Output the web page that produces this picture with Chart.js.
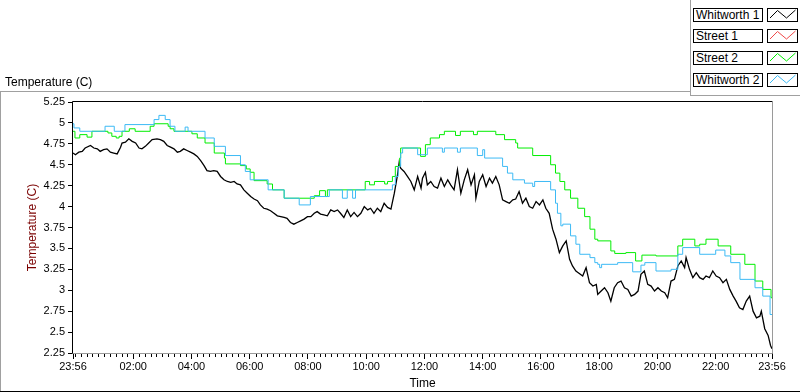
<!DOCTYPE html>
<html>
<head>
<meta charset="utf-8">
<script src="https://cdn.jsdelivr.net/npm/chart.js@4.4.1/dist/chart.umd.min.js"></script>
<style>
html,body{margin:0;padding:0;background:#fff;}
#wrap{position:relative;width:800px;height:392px;overflow:hidden;font-family:"Liberation Sans",Arial,sans-serif;background:#fff;}
#c{position:absolute;left:0;top:0;}
.ln{position:absolute;}
.lbl{position:absolute;font-size:12px;line-height:14px;color:#000;white-space:nowrap;}
.lgname{position:absolute;box-sizing:border-box;border:1px solid #000;background:#fff;font-size:12px;line-height:12px;padding-left:2px;white-space:nowrap;}
.lgicon{position:absolute;box-sizing:border-box;border:1px solid #000;background:#fff;}
</style>
</head>
<body>
<div id="wrap">
<canvas id="c" width="800" height="392"></canvas>
<div class="lbl" style="left:5px;top:75px;">Temperature (C)</div>
<div class="ln" style="left:0;top:91px;width:690px;height:1px;background:#a0a0a0;"></div>
<div class="ln" style="left:0;top:91px;width:1px;height:301px;background:#a0a0a0;"></div>
<div class="ln" style="left:0;top:391px;width:800px;height:1px;background:#000;"></div>
<div class="ln" style="left:690px;top:0;width:1px;height:96px;background:#a0a0a0;"></div>
<div class="ln" style="left:690px;top:95px;width:110px;height:1px;background:#a0a0a0;"></div>
<div id="legend"></div>
</div>
<script>
// ---- data ----
const seriesNames = ['Whitworth 1', 'Street 1', 'Street 2', 'Whitworth 2'];
const seriesColors = ['#000000', '#f04848', '#00ee00', '#3cbaf5'];

// x axis: minutes since 23:56
const xTickMinutes = [0,124,244,364,484,604,724,844,964,1084,1204,1324,1440];
const xTickLabels = ['23:56','02:00','04:00','06:00','08:00','10:00','12:00','14:00','16:00','18:00','20:00','22:00','23:56'];
const yTickValues = [2.25,2.5,2.75,3,3.25,3.5,3.75,4,4.25,4.5,4.75,5,5.25];
const yTickLabels = ['2.25','2.5','2.75','3','3.25','3.5','3.75','4','4.25','4.5','4.75','5','5.25'];

const whitworth1Times = [
0,5,12,19,25,36,43,50,56,63,
70,77,84,91,98,101,108,115,122,129,
136,142,149,156,163,173,180,187,194,201,
208,215,221,228,235,242,249,256,263,270,
276,283,290,297,304,311,318,325,332,338,
345,352,359,366,373,380,386,393,400,407,
414,421,428,435,441,448,455,462,469,476,
483,490,497,503,510,517,524,531,538,545,
551,558,565,572,579,586,593,600,607,613,
620,627,634,641,648,655,662,668,672,675,
682,689,696,703,710,717,720,726,730,737,
744,751,758,765,772,778,785,792,799,806,
813,820,827,830,837,844,851,858,864,871,
878,885,892,899,906,912,919,926,933,940,
947,954,961,968,974,981,988,995,1002,1009,
1016,1023,1029,1036,1043,1050,1057,1064,1071,1078,
1081,1088,1095,1102,1108,1115,1122,1129,1136,1143,
1150,1157,1164,1170,1177,1184,1191,1198,1205,1212,
1219,1225,1232,1239,1246,1253,1260,1263,1270,1277,
1284,1291,1298,1304,1311,1318,1325,1332,1339,1346,
1353,1360,1366,1373,1380,1387,1394,1401,1408,1415,
1418,1425,1432,1437,1440];
const whitworth1Temps = [
4.64,4.62,4.65,4.66,4.70,4.73,4.70,4.69,4.66,4.68,
4.69,4.65,4.64,4.63,4.71,4.76,4.77,4.81,4.78,4.76,
4.70,4.69,4.72,4.76,4.80,4.81,4.80,4.78,4.73,4.71,
4.69,4.65,4.66,4.69,4.67,4.65,4.63,4.60,4.55,4.49,
4.43,4.42,4.43,4.42,4.36,4.32,4.30,4.29,4.30,4.27,
4.26,4.20,4.16,4.12,4.09,4.07,4.02,3.98,3.97,3.95,
3.92,3.89,3.88,3.87,3.86,3.81,3.79,3.81,3.83,3.85,
3.88,3.88,3.92,3.94,3.91,3.90,3.89,3.96,3.94,3.96,
3.92,3.87,3.96,3.88,3.93,3.88,3.92,4.00,3.96,3.98,
3.92,3.98,3.94,4.04,3.99,3.97,4.16,4.36,4.53,4.46,
4.42,4.36,4.30,4.20,4.36,4.22,4.34,4.41,4.26,4.30,
4.24,4.22,4.34,4.24,4.32,4.26,4.20,4.44,4.16,4.32,
4.44,4.26,4.38,4.10,4.30,4.38,4.24,4.34,4.28,4.36,
4.26,4.08,4.06,4.04,4.08,4.09,4.18,4.04,4.10,4.00,
3.98,4.06,4.02,4.08,3.98,3.92,3.73,3.61,3.45,3.53,
3.59,3.37,3.29,3.23,3.20,3.17,3.27,3.09,3.05,3.07,
2.95,2.99,3.03,2.97,2.87,3.03,3.09,3.11,3.03,3.01,
2.93,2.95,2.99,3.19,3.23,3.07,3.05,2.99,3.03,2.99,
2.97,2.91,3.11,3.13,3.29,3.35,3.27,3.39,3.25,3.15,
3.21,3.15,3.13,3.17,3.15,3.23,3.17,3.15,3.09,3.13,
3.01,2.93,2.87,2.79,2.77,2.87,2.93,2.75,2.67,2.69,
2.75,2.54,2.46,2.34,2.30];

const street1Times = [];
const street1Temps = [];

const street2Times = [0,4,14,29,39,72,80,89,95,101,116,128,159,167,196,200,208,245,256,272,291,312,314,345,357,365,373,400,411,435,497,508,520,524,602,611,621,642,648,658,664,673,675,716,726,736,755,765,788,798,825,833,871,889,912,916,947,984,994,1003,1013,1025,1040,1054,1065,1075,1081,1108,1116,1139,1159,1172,1201,1246,1256,1281,1291,1304,1329,1355,1384,1405,1421,1438,1440];
const street2Temps = [4.90,4.82,4.86,4.83,4.90,4.88,4.84,4.82,4.84,4.90,4.93,4.90,4.96,4.99,4.96,4.93,4.90,4.87,4.82,4.76,4.64,4.58,4.51,4.49,4.45,4.41,4.31,4.27,4.20,4.10,4.13,4.19,4.12,4.20,4.30,4.26,4.30,4.27,4.30,4.36,4.48,4.58,4.70,4.60,4.74,4.82,4.86,4.90,4.85,4.90,4.86,4.90,4.86,4.80,4.76,4.70,4.61,4.50,4.40,4.30,4.20,4.10,3.98,3.88,3.73,3.61,3.59,3.47,3.44,3.45,3.35,3.42,3.41,3.53,3.61,3.53,3.55,3.61,3.53,3.43,3.31,3.11,3.01,2.91,2.91];

const whitworth2Times = [0,2,14,66,85,107,167,177,190,200,210,231,237,272,291,314,345,355,365,402,435,466,489,528,555,565,576,582,658,664,670,675,679,710,730,761,765,792,798,833,844,848,885,895,906,930,947,951,984,994,998,1005,1009,1025,1036,1044,1065,1075,1081,1085,1089,1122,1153,1170,1178,1201,1232,1246,1256,1291,1324,1343,1355,1374,1405,1421,1436,1440];
const whitworth2Temps = [4.99,4.94,4.90,4.96,4.90,4.98,5.04,5.09,5.04,4.96,4.90,4.95,4.90,4.82,4.72,4.61,4.50,4.42,4.32,4.20,4.10,4.02,4.12,4.20,4.10,4.20,4.10,4.20,4.26,4.36,4.48,4.64,4.70,4.62,4.70,4.65,4.70,4.65,4.70,4.61,4.68,4.58,4.48,4.40,4.32,4.28,4.24,4.30,4.20,4.04,3.92,3.77,3.79,3.65,3.55,3.43,3.39,3.33,3.31,3.27,3.31,3.33,3.22,3.30,3.33,3.23,3.25,3.43,3.51,3.43,3.48,3.41,3.33,3.13,3.03,2.93,2.71,2.71];

// ---- chart ----
function pts(ts, vs){ return ts.map((t,i)=>({x:t, y:vs[i]})); }

Chart.defaults.font.family = '"Liberation Sans", Arial, sans-serif';
Chart.defaults.font.size = 11;
Chart.defaults.color = '#000';

const framePlugin = {
  id: 'framePlugin',
  afterDraw(chart){
    const {ctx, chartArea:a, scales} = chart;
    const x = scales.x;
    ctx.save();
    ctx.lineWidth = 1;
    // minor x ticks every 12 minutes
    ctx.strokeStyle = '#000';
    ctx.beginPath();
    for (let t = 4; t < 1440; t += 12) {
      if (xTickMinutes.indexOf(t) >= 0) continue;
      const px = Math.round(x.getPixelForValue(t)) + 0.5;
      ctx.moveTo(px, a.bottom + 1);
      ctx.lineTo(px, a.bottom + 4);
    }
    ctx.stroke();
    // plot border: top/left black, right/bottom gray
    const L = Math.round(a.left) - 0.5, T = Math.round(a.top) - 0.5;
    const R = Math.round(a.right) + 0.5, B = Math.round(a.bottom) + 0.5;
    ctx.strokeStyle = '#000';
    ctx.beginPath();
    ctx.moveTo(L, B); ctx.lineTo(L, T); ctx.lineTo(R, T);
    ctx.stroke();
    ctx.strokeStyle = '#9a9a9a';
    ctx.beginPath();
    ctx.moveTo(R, T); ctx.lineTo(R, B); ctx.lineTo(L, B);
    ctx.stroke();
    ctx.restore();
  }
};

const allTimes = [whitworth1Times, street1Times, street2Times, whitworth2Times];
const allTemps = [whitworth1Temps, street1Temps, street2Temps, whitworth2Temps];
const stepped = [false, true, true, true];

new Chart(document.getElementById('c'), {
  type: 'line',
  data: {
    datasets: seriesNames.map((n, i) => ({
      label: n,
      data: pts(allTimes[i], allTemps[i]),
      borderColor: seriesColors[i],
      backgroundColor: seriesColors[i],
      borderWidth: i === 0 ? 1.3 : 1,
      pointRadius: 0,
      tension: 0,
      stepped: stepped[i],
      fill: false
    })).reverse()
  },
  options: {
    responsive: false,
    animation: false,
    devicePixelRatio: 1,
    layout: { padding: { top: 102, right: 28, bottom: 0, left: 0 } },
    plugins: { legend: { display: false }, tooltip: { enabled: false } },
    scales: {
      x: {
        type: 'linear', min: 0, max: 1440,
        afterBuildTicks: s => { s.ticks = xTickMinutes.map(v => ({ value: v })); },
        afterFit: s => { s.height = 39; },
        ticks: { autoSkip: false, maxRotation: 0, padding: 1, callback: (v, i) => xTickLabels[i] },
        grid: { display: true, drawOnChartArea: false, drawTicks: true, tickLength: 6, tickColor: '#000' },
        border: { display: false },
        title: { display: true, text: 'Time', font: { size: 12 }, color: '#000', padding: { top: 0, bottom: 1 } }
      },
      y: {
        min: 2.25, max: 5.25,
        afterBuildTicks: s => { s.ticks = yTickValues.map(v => ({ value: v })); },
        afterFit: s => { s.width = 73; },
        ticks: { autoSkip: false, padding: 3, callback: (v, i) => yTickLabels[i] },
        grid: { display: true, drawOnChartArea: false, drawTicks: true, tickLength: 5, tickColor: '#000' },
        border: { display: false },
        title: { display: true, text: 'Temperature (C)', font: { size: 12 }, color: '#7a0000', padding: { top: 25, bottom: 0 } }
      }
    }
  },
  plugins: [framePlugin]
});

// ---- legend (LabVIEW style) ----
const legendTops = [8, 29, 51, 73];
const lg = document.getElementById('legend');
seriesNames.forEach((n, i) => {
  const top = legendTops[i];
  const nb = document.createElement('div');
  nb.className = 'lgname';
  nb.style.cssText = 'left:693px;top:' + top + 'px;width:70px;height:14px;';
  nb.textContent = n;
  lg.appendChild(nb);
  const ib = document.createElement('div');
  ib.className = 'lgicon';
  ib.style.cssText = 'left:767px;top:' + top + 'px;width:31px;height:14px;';
  ib.innerHTML = '<svg width="29" height="12" style="position:absolute;left:0;top:0"><polyline points="2,9 9.5,1.5 18.5,9 27.5,1" fill="none" stroke="' + seriesColors[i] + '" stroke-width="1"/></svg>';
  lg.appendChild(ib);
});
</script>
</body>
</html>
